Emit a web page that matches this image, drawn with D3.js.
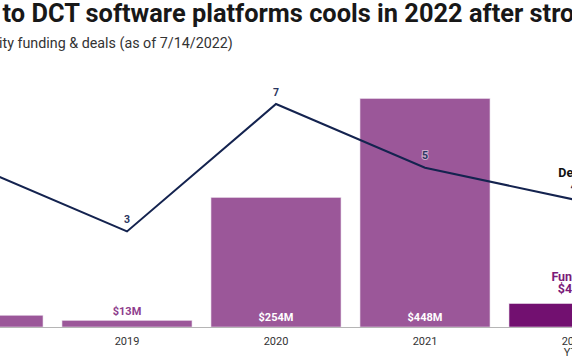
<!DOCTYPE html>
<html>
<head>
<meta charset="utf-8">
<script src="https://cdn.jsdelivr.net/npm/d3@7"></script>
<style>
  html, body { margin: 0; padding: 0; background: #fff; overflow: hidden; }
  svg { display: block; font-family: Roboto, "Noto Sans", sans-serif; }
</style>
</head>
<body>
<div id="graph"></div>
<script>
const fullWidth = 572;
const fullHeight = 364;

// data
const years = ["2018", "2019", "2020", "2021", "2022"];
const yearLabels = ["2018", "2019", "2020", "2021", "2022|YTD"];
const funding = [23, 13, 254, 448, 46];
const fundingLabels = ["$23M", "$13M", "$254M", "$448M", "$46M"];
const deals = [5, 3, 7, 5, 4];

const baseline = 327;

var svg = d3.select("#graph")
	.append("svg")
	.attr("width", fullWidth)
	.attr("height", fullHeight);

// band scale runs past the window edges, like the cropped original
var x = d3.scaleBand()
	.domain(years)
	.range([-96.5, 648.5])
	.paddingInner(0.1275)
	.paddingOuter(0.06375);

var yFund = d3.scaleLinear()
	.domain([0, 448])
	.range([baseline, 98.5]);

var yDeals = d3.scaleLinear()
	.domain([0, 7])
	.range([baseline, 104]);

// title + subtitle, shifted so the start is cut off
function croppedText(full, cut, xStart, y, size, weight, color) {
	var t = svg.append("text")
		.attr("y", y)
		.style("font-size", size + "px")
		.style("font-weight", weight)
		.attr("fill", color)
		.text(full);
	var w = t.node().getSubStringLength(0, cut);
	t.attr("x", xStart - w);
}
croppedText("Funding to DCT software platforms cools in 2022 after strong 2021", 8, 2.5, 22, 25.4, 700, "#181818");
croppedText("Equity funding & deals (as of 7/14/2022)", 4, 2.5, 47.5, 14.3, 400, "#333");

// bars
svg.append("g").selectAll("rect")
	.data(years)
	.enter().append("rect")
	.attr("x", d => x(d))
	.attr("y", (d, i) => yFund(funding[i]))
	.attr("width", x.bandwidth())
	.attr("height", (d, i) => baseline - yFund(funding[i]))
	.attr("fill", (d, i) => i == 4 ? "#721070" : "#9b5799")
	.attr("stroke", "#e9dcea")
	.attr("stroke-width", 0.6);

// baseline
svg.append("line")
	.attr("x1", 0).attr("x2", fullWidth)
	.attr("y1", baseline + 0.5).attr("y2", baseline + 0.5)
	.attr("stroke", "#b5b5b5")
	.attr("stroke-width", 1);

// x axis labels
var xl = svg.append("g").selectAll("text")
	.data(years)
	.enter().append("text")
	.attr("x", d => x(d) + x.bandwidth() / 2)
	.attr("y", 344.5)
	.attr("text-anchor", "middle")
	.attr("fill", "#333")
	.style("font-size", "11px");
xl.each(function (d, i) {
	var parts = yearLabels[i].split("|");
	d3.select(this).selectAll("tspan")
		.data(parts)
		.enter().append("tspan")
		.attr("x", x(d) + x.bandwidth() / 2)
		.attr("dy", (p, j) => j == 0 ? 0 : 11.5)
		.text(p => p);
});

// funding value labels
svg.append("g").selectAll("text")
	.data(years.slice(0, 4))
	.enter().append("text")
	.attr("x", d => x(d) + x.bandwidth() / 2)
	.attr("y", (d, i) => funding[i] > 100 ? baseline - 6 : yFund(funding[i]) - 5)
	.attr("text-anchor", "middle")
	.attr("fill", (d, i) => funding[i] > 100 ? "#fff" : "#8e3d8c")
	.style("font-size", "11px")
	.style("font-weight", 700)
	.text((d, i) => fundingLabels[i]);

// deals line
var line = d3.line()
	.x((d, i) => x(years[i]) + x.bandwidth() / 2)
	.y(d => yDeals(d));

svg.append("path")
	.datum(deals)
	.attr("d", line)
	.attr("fill", "none")
	.attr("stroke", "#14234f")
	.attr("stroke-width", 2)
	.attr("stroke-linejoin", "miter");

// deal labels
svg.append("g").selectAll("text")
	.data(deals.slice(0, 4))
	.enter().append("text")
	.attr("x", (d, i) => x(years[i]) + x.bandwidth() / 2)
	.attr("y", d => yDeals(d) - 8.5)
	.attr("text-anchor", "middle")
	.attr("fill", "#2a3560")
	.attr("stroke", "#fff")
	.attr("stroke-opacity", 0.5)
	.attr("stroke-width", 2)
	.attr("paint-order", "stroke")
	.style("font-size", "10.5px")
	.style("font-weight", 700)
	.text(d => d);

// annotations for 2022
var cx = x("2022") + x.bandwidth() / 2;
var dl = svg.append("text")
	.attr("x", cx)
	.attr("y", 177)
	.attr("text-anchor", "middle")
	.style("font-size", "12.5px")
	.style("font-weight", 700);
dl.append("tspan").attr("x", cx).attr("fill", "#111").text("Deals");
dl.append("tspan").attr("x", cx).attr("dy", 13).attr("fill", "#2a3560").text(deals[4]);

var fl = svg.append("text")
	.attr("x", cx)
	.attr("y", 280.5)
	.attr("text-anchor", "middle")
	.attr("fill", "#7b1a79")
	.style("font-size", "12.5px")
	.style("font-weight", 700);
fl.append("tspan").attr("x", cx).text("Funding");
fl.append("tspan").attr("x", cx).attr("dy", 12.5).text(fundingLabels[4]);
</script>
</body>
</html>
